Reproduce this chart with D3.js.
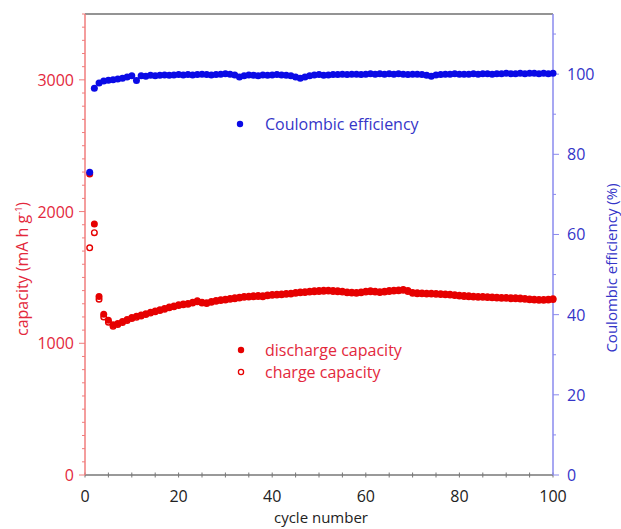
<!DOCTYPE html>
<html><head><meta charset="utf-8">
<script src="https://cdn.jsdelivr.net/npm/d3@7/dist/d3.min.js"></script>
<style>body{margin:0;background:#fff}svg{display:block}text{font-family:"Open Sans",sans-serif}</style>
</head><body>
<svg id="c" width="621" height="529"></svg>
<script>
const discharge = [2285,1905,1355,1220,1175,1140,1150,1165,1180,1195,1205,1215,1225,1235,1245,1255,1265,1275,1283,1292,1298,1303,1312,1322,1312,1308,1318,1325,1330,1335,1340,1345,1350,1355,1358,1360,1362,1360,1366,1370,1372,1375,1378,1380,1385,1390,1392,1395,1398,1400,1402,1403,1400,1398,1395,1390,1388,1385,1390,1395,1398,1396,1392,1395,1400,1403,1405,1408,1400,1385,1383,1382,1380,1380,1378,1376,1375,1372,1368,1365,1362,1360,1358,1356,1355,1353,1352,1350,1348,1347,1345,1345,1343,1340,1337,1335,1333,1332,1335,1338];
const charge = [1725,1840,1335,1200,1160,1130,1142,1158,1173,1188,1197,1208,1219,1229,1239,1249,1259,1269,1277,1286,1292,1297,1306,1316,1306,1302,1312,1319,1324,1329,1334,1339,1344,1349,1352,1354,1356,1354,1360,1364,1366,1369,1372,1374,1379,1384,1386,1389,1392,1394,1396,1397,1394,1392,1389,1384,1382,1379,1384,1389,1392,1390,1386,1389,1394,1397,1399,1402,1394,1379,1377,1376,1374,1374,1372,1370,1369,1366,1362,1359,1356,1354,1352,1350,1349,1347,1346,1344,1342,1341,1339,1339,1337,1334,1331,1329,1327,1326,1329,1332];
const efficiency = [75.5,96.5,97.8,98.3,98.5,98.6,98.8,99.0,99.3,99.6,98.4,99.6,99.5,99.7,99.6,99.7,99.8,99.7,99.8,99.9,99.8,99.9,99.8,99.9,100.0,99.9,99.8,99.9,100.0,100.1,100.0,99.8,99.3,99.6,99.8,99.7,99.6,99.8,99.7,99.8,99.9,99.8,99.7,99.6,99.3,99.0,99.3,99.6,99.8,99.9,99.7,99.8,99.9,99.9,100.0,99.9,100.0,100.0,99.9,100.0,100.1,100.0,100.1,100.0,100.1,100.0,100.1,100.0,99.9,100.0,100.0,99.9,99.7,99.5,99.8,99.9,100.0,100.0,100.1,100.0,100.0,100.0,100.1,100.0,100.1,100.1,100.0,100.1,100.1,100.2,100.1,100.1,100.2,100.1,100.2,100.2,100.1,100.2,100.1,100.2];
const cycles = d3.range(1, 101);
const xTicks = [0,20,40,60,80,100];
const leftTicks = [0,1000,2000,3000];
const rightTicks = [0,20,40,60,80,100];

const svg = d3.select("#c");
const L = 85, R = 553, T = 14, B = 475;
const x = d3.scaleLinear().domain([0,100]).range([L,R]);
const yL = d3.scaleLinear().domain([0,3500]).range([B,T]);
const yR = d3.scaleLinear().domain([0,115]).range([B,T]);

const red = "#e60000", blue = "#0a0ae6";
const redText = "#e3283c", blueText = "#3535c8";

// frame
svg.append("line").attr("x1",L).attr("x2",R).attr("y1",T).attr("y2",T).attr("stroke","#707070").attr("stroke-width",1.5);

// bottom axis
const gx = svg.append("g").attr("transform",`translate(0,${B})`);
gx.append("line").attr("x1",L).attr("x2",R).attr("stroke","#777").attr("stroke-width",1.5);
gx.selectAll("line.t").data(d3.range(0,101,5)).join("line").attr("class","t")
  .attr("x1",d=>x(d)).attr("x2",d=>x(d)).attr("y1",-2.5).attr("y2",2.5).attr("stroke","#777").attr("stroke-width",1);
gx.selectAll("text").data(xTicks).join("text").attr("x",d=>x(d)).attr("y",27)
  .attr("text-anchor","middle").attr("font-size",16).attr("fill","#222").text(d=>d);
svg.append("text").attr("x",(L+R)/2+2).attr("y",523).attr("text-anchor","middle").attr("font-size",15).attr("fill","#222").text("cycle number");

// left axis
const gl = svg.append("g");
gl.selectAll("line.m").data(d3.range(0,3501,100)).join("line").attr("class","m")
  .attr("x1",d=>d%1000===0?L-6:L-3).attr("x2",L).attr("y1",d=>yL(d)).attr("y2",d=>yL(d))
  .attr("stroke","#f07c7c").attr("stroke-width",1);
gl.append("line").attr("x1",L).attr("x2",L).attr("y1",T).attr("y2",B).attr("stroke","#f07c7c").attr("stroke-width",1.5);
gl.selectAll("text").data(leftTicks).join("text").attr("x",L-11).attr("y",d=>yL(d)+6)
  .attr("text-anchor","end").attr("font-size",16).attr("fill",redText).text(d=>d);
const lt = svg.append("text").attr("transform","translate(28,269) rotate(-90)").attr("text-anchor","middle")
  .attr("font-size",16).attr("fill",redText);
lt.append("tspan").text("capacity (mA h g");
lt.append("tspan").attr("font-size",9).attr("dy",-6).text("-1");
lt.append("tspan").attr("dy",6).text(")");

// right axis
const gr = svg.append("g");
gr.selectAll("line.m").data(d3.range(0,111,10)).join("line").attr("class","m")
  .attr("x1",R).attr("x2",d=>d%20===0?R+6:R+3).attr("y1",d=>yR(d)).attr("y2",d=>yR(d))
  .attr("stroke","#8a8aee").attr("stroke-width",1);
gr.append("line").attr("x1",R).attr("x2",R).attr("y1",T).attr("y2",B).attr("stroke","#8a8aee").attr("stroke-width",1.5);
gr.selectAll("text").data(rightTicks).join("text").attr("x",R+14).attr("y",d=>yR(d)+6)
  .attr("text-anchor","start").attr("font-size",16).attr("fill",blueText).text(d=>d);
svg.append("text").attr("transform","translate(617,268) rotate(-90)").attr("text-anchor","middle")
  .attr("font-size",15).attr("fill",blueText).text("Coulombic efficiency (%)");

// data
const r = 3.5;
svg.append("g").selectAll("circle").data(cycles).join("circle")
  .attr("cx",d=>x(d)).attr("cy",(d,i)=>yL(charge[i])).attr("r",r-0.7)
  .attr("fill","#fff").attr("stroke",red).attr("stroke-width",1.4);
svg.append("g").selectAll("circle").data(cycles).join("circle")
  .attr("cx",d=>x(d)).attr("cy",(d,i)=>yL(discharge[i])).attr("r",r).attr("fill",red);
svg.append("g").selectAll("circle").data(cycles).join("circle")
  .attr("cx",d=>x(d)).attr("cy",(d,i)=>yR(efficiency[i])).attr("r",r).attr("fill",blue);

// legends
svg.append("circle").attr("cx",240).attr("cy",124).attr("r",3.2).attr("fill",blue);
svg.append("text").attr("x",265).attr("y",130).attr("font-size",16).attr("fill",blueText).text("Coulombic efficiency");
svg.append("circle").attr("cx",241).attr("cy",350).attr("r",3.2).attr("fill",red);
svg.append("text").attr("x",265).attr("y",356).attr("font-size",16).attr("fill",redText).text("discharge capacity");
svg.append("circle").attr("cx",241).attr("cy",372).attr("r",2.6).attr("fill","#fff").attr("stroke",red).attr("stroke-width",1.3);
svg.append("text").attr("x",265).attr("y",378).attr("font-size",16).attr("fill",redText).text("charge capacity");
</script>
</body></html>
